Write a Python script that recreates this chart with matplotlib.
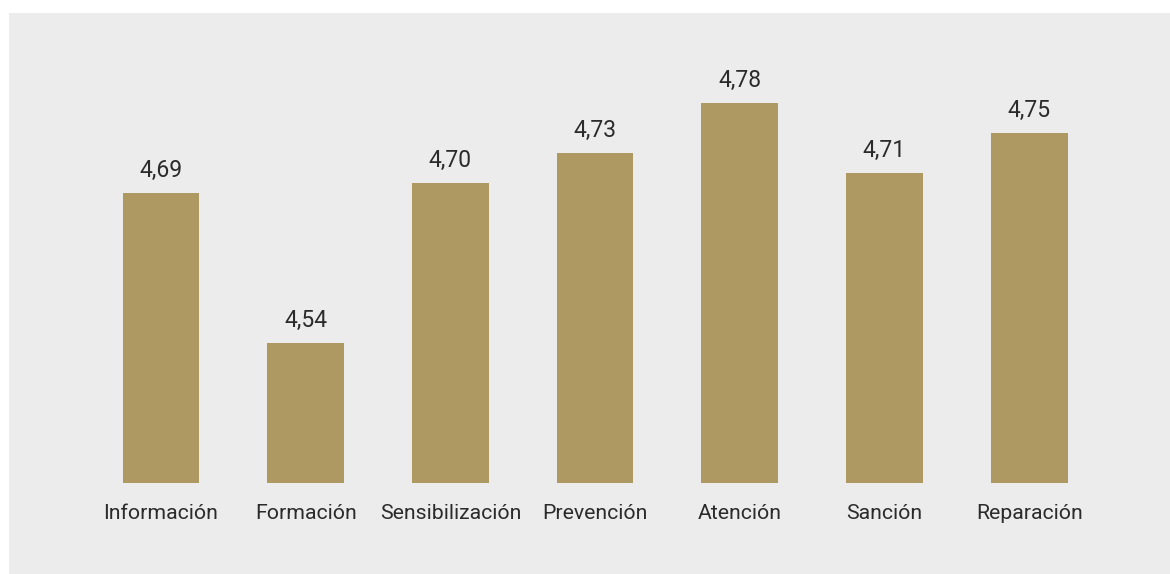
import matplotlib
matplotlib.use("Agg")
import matplotlib.pyplot as plt
from matplotlib.patches import Rectangle

categories = ["Información", "Formación", "Sensibilización", "Prevención",
              "Atención", "Sanción", "Reparación"]
values = [4.69, 4.54, 4.70, 4.73, 4.78, 4.71, 4.75]
value_labels = ["4,69", "4,54", "4,70", "4,73", "4,78", "4,71", "4,75"]

plt.rcParams['font.family'] = ['Roboto', 'DejaVu Sans']

W, H = 1170, 574
fig = plt.figure(figsize=(W / 100, H / 100), dpi=100)
fig.patch.set_facecolor("white")

panel_left = 9
panel_top = 13
fig.add_artist(Rectangle((panel_left / W, 0), 1 - panel_left / W, (H - panel_top) / H,
                         transform=fig.transFigure, facecolor="#ECECEC",
                         edgecolor="none", zorder=0))

base_px = 483.3
ax = fig.add_axes([panel_left / W, (H - base_px) / H, 1 - panel_left / W,
                   (base_px - panel_top) / H])
ax.set_facecolor("none")

x = list(range(len(categories)))
ax.bar(x, values, width=0.53, color="#AE9963", bottom=0, zorder=2)
ax.set_ylim(4.4, 4.8703)
ax.set_xlim(-1.050, 6.973)

text_color = "#2B2B2B"
for xi, v, lab in zip(x, values, value_labels):
    ax.annotate(lab, (xi, v), xytext=(0, 11.5), textcoords="offset points",
                ha="center", va="baseline", fontsize=16.5, color=text_color,
                fontweight="normal")

ax.set_xticks(x)
ax.set_xticklabels(categories, fontsize=15.3, color=text_color, fontweight="normal")
ax.tick_params(axis="x", length=0, pad=15)
ax.set_yticks([])
for s in ax.spines.values():
    s.set_visible(False)

fig.savefig("out.png", dpi=100, facecolor=fig.get_facecolor())
